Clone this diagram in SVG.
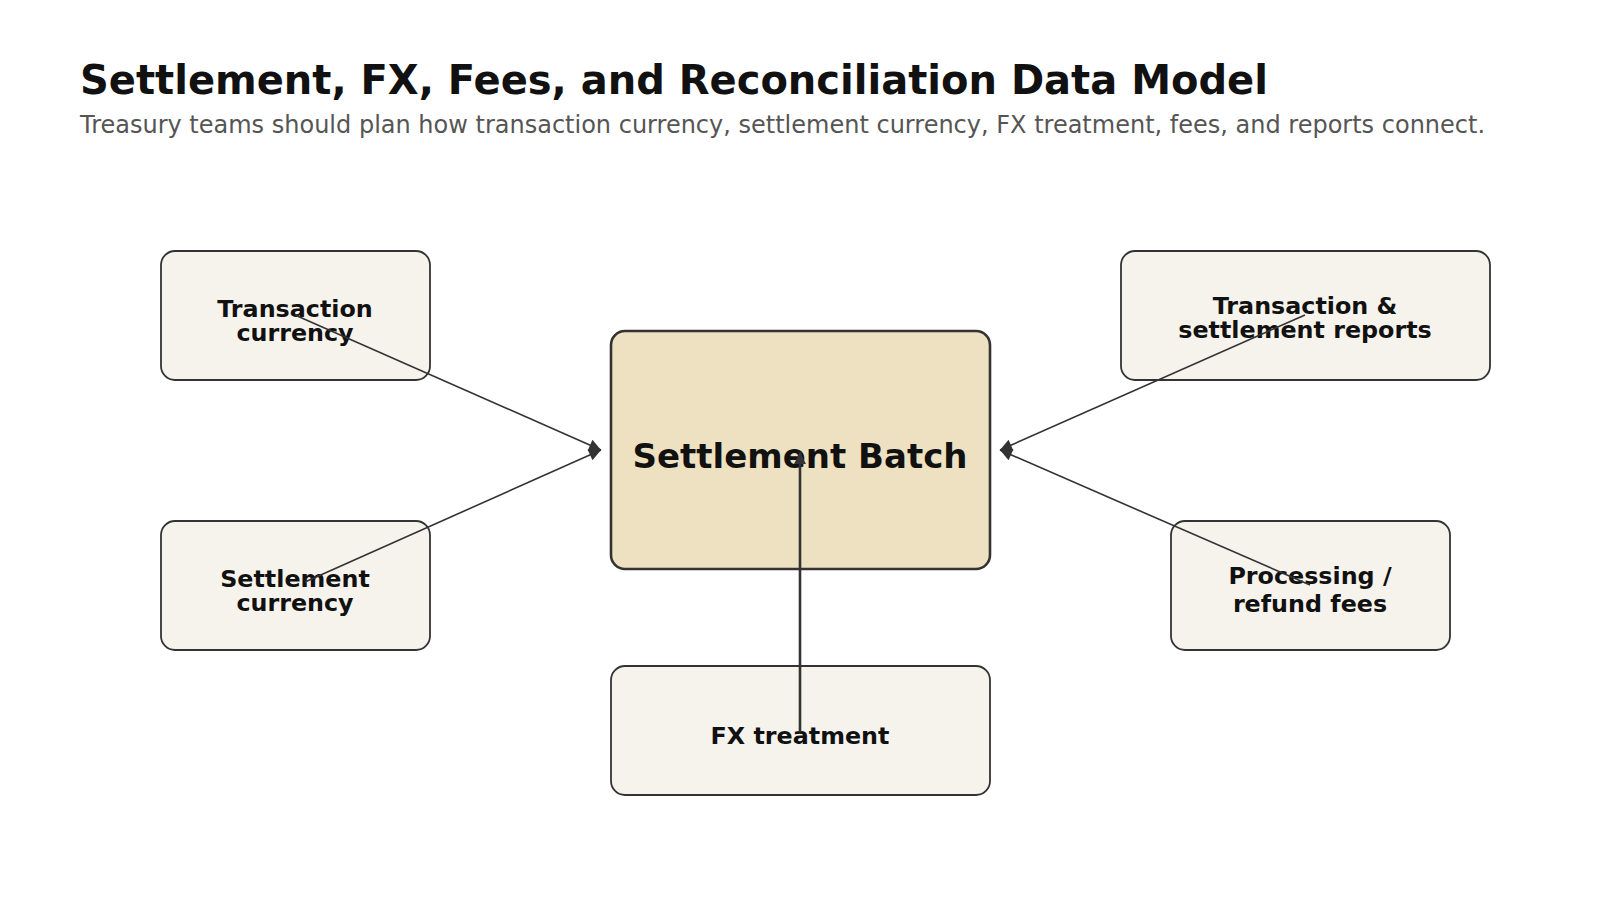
<svg xmlns="http://www.w3.org/2000/svg" width="1600" height="900" viewBox="0 0 1600 900">
<defs>
<style>
.node rect{fill:#f6f3ec;stroke:#333;stroke-width:1.8}
#batch rect{fill:#ede1c1;stroke:#333;stroke-width:2.6}
.lbl{font-family:"DejaVu Sans","Liberation Sans",sans-serif;font-weight:bold;font-size:23.8px;fill:#111;text-anchor:middle}
.big{font-size:34px}
.edge{stroke:#333;stroke-width:1.6;fill:none}
.title{font-family:"DejaVu Sans","Liberation Sans",sans-serif;font-weight:bold;font-size:40px;fill:#111}
.sub{font-family:"DejaVu Sans","Liberation Sans",sans-serif;font-size:24px;fill:#555}
</style>
<marker id="ah2" viewBox="0 0 10 10" refX="10" refY="5" markerWidth="14" markerHeight="12" markerUnits="userSpaceOnUse" orient="auto">
<path d="M0,0 L10,5 L0,10 Z" fill="#333"/>
</marker>
</defs>
<rect width="1600" height="900" fill="#fff"/>
<text class="title" x="80" y="94">Settlement, FX, Fees, and Reconciliation Data Model</text>
<text class="sub" x="80" y="133">Treasury teams should plan how transaction currency, settlement currency, FX treatment, fees, and reports connect.</text>

<g id="txn-currency" class="node"><rect x="161" y="251" width="269" height="129" rx="14"/><text class="lbl" x="295" y="317">Transaction</text><text class="lbl" x="295" y="341">currency</text></g>
<g id="settle-currency" class="node"><rect x="161" y="521" width="269" height="129" rx="14"/><text class="lbl" x="295" y="587">Settlement</text><text class="lbl" x="295" y="611">currency</text></g>
<g id="batch"><rect x="611" y="331" width="379" height="238" rx="14"/><text class="lbl big" x="800" y="468">Settlement Batch</text></g>
<g id="fx" class="node"><rect x="611" y="666" width="379" height="129" rx="14"/><text class="lbl" x="800" y="744">FX treatment</text></g>
<g id="reports" class="node"><rect x="1121" y="251" width="369" height="129" rx="14"/><text class="lbl" x="1305" y="314">Transaction &amp;</text><text class="lbl" x="1305" y="338">settlement reports</text></g>
<g id="fees" class="node"><rect x="1171" y="521" width="279" height="129" rx="14"/><text class="lbl" x="1310" y="584">Processing /</text><text class="lbl" x="1310" y="612">refund fees</text></g>

<g id="connectors">
<line class="edge" x1="295" y1="315" x2="601" y2="450" marker-end="url(#ah2)"/>
<line class="edge" x1="305" y1="582" x2="601" y2="450" marker-end="url(#ah2)"/>
<line class="edge" x1="1305" y1="315" x2="1000" y2="450" marker-end="url(#ah2)"/>
<line class="edge" x1="1310" y1="585" x2="1000" y2="450" marker-end="url(#ah2)"/>
<line class="edge" style="stroke-width:2.6" x1="800" y1="732" x2="800" y2="452" marker-end="url(#ah2)"/>
</g>
</svg>
